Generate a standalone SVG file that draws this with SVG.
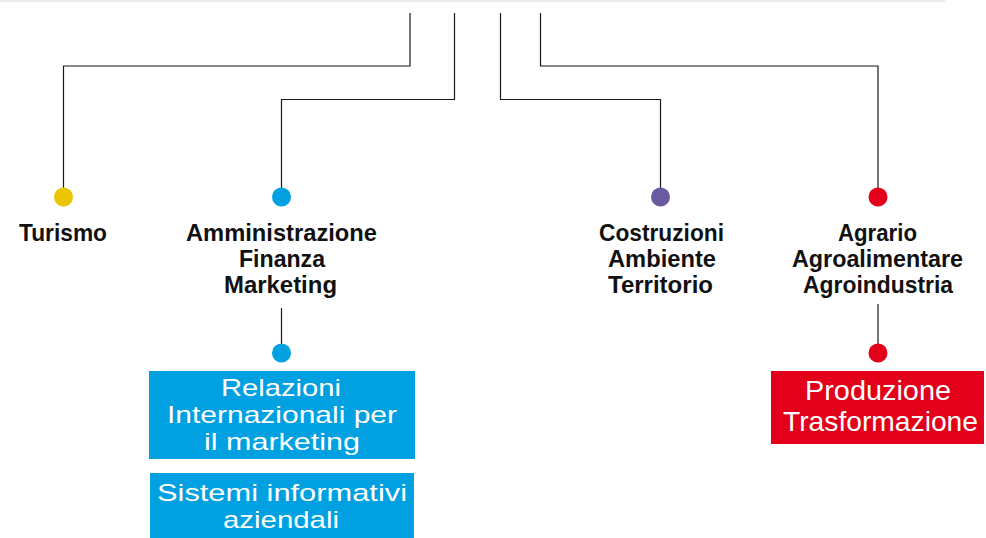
<svg xmlns="http://www.w3.org/2000/svg" width="986" height="538" viewBox="0 0 986 538">
<style>
.ln{fill:none;stroke:#1a1a1a;stroke-width:1.2}
.lbl{font-family:"Liberation Sans",Arial,sans-serif;font-weight:bold;font-size:24px;fill:#111;text-anchor:middle}
.wt{font-family:"Liberation Sans",Arial,sans-serif;font-size:24px;fill:#fff;text-anchor:middle}
.wr{font-family:"Liberation Sans",Arial,sans-serif;font-size:28px;fill:#fff;text-anchor:middle}
</style>
<rect x="0" y="0" width="945" height="2" fill="#ececec"/>
<g id="connectors">
<polyline class="ln" points="410,13 410,66 63.5,66 63.5,190"/>
<polyline class="ln" points="454.5,13 454.5,99.5 281.5,99.5 281.5,190"/>
<polyline class="ln" points="500.5,13 500.5,99.5 660.5,99.5 660.5,190"/>
<polyline class="ln" points="540.5,13 540.5,66 878,66 878,190"/>
<line class="ln" x1="281.5" y1="308" x2="281.5" y2="347"/>
<line class="ln" x1="878" y1="304" x2="878" y2="347"/>
</g>
<g id="turismo">
<circle cx="63.5" cy="197" r="9.5" fill="#E9C600"/>
<text class="lbl" x="63" y="241" textLength="88" lengthAdjust="spacingAndGlyphs">Turismo</text>
</g>
<g id="afm">
<circle cx="281.5" cy="197" r="9.5" fill="#00A0E1"/>
<text class="lbl"><tspan x="281.5" y="241" textLength="191" lengthAdjust="spacingAndGlyphs">Amministrazione</tspan><tspan x="282" y="267" textLength="86" lengthAdjust="spacingAndGlyphs">Finanza</tspan><tspan x="280.5" y="293" textLength="113" lengthAdjust="spacingAndGlyphs">Marketing</tspan></text>
</g>
<g id="cat">
<circle cx="660.5" cy="197" r="9.5" fill="#6A5AA0"/>
<text class="lbl"><tspan x="661.5" y="241" textLength="125" lengthAdjust="spacingAndGlyphs">Costruzioni</tspan><tspan x="662" y="267" textLength="108" lengthAdjust="spacingAndGlyphs">Ambiente</tspan><tspan x="660.5" y="293" textLength="105" lengthAdjust="spacingAndGlyphs">Territorio</tspan></text>
</g>
<g id="agrario">
<circle cx="878" cy="197" r="9.5" fill="#E2001A"/>
<text class="lbl"><tspan x="877.5" y="241" textLength="79" lengthAdjust="spacingAndGlyphs">Agrario</tspan><tspan x="877.5" y="267" textLength="171" lengthAdjust="spacingAndGlyphs">Agroalimentare</tspan><tspan x="878" y="293" textLength="150" lengthAdjust="spacingAndGlyphs">Agroindustria</tspan></text>
</g>
<g id="rim">
<circle cx="281.5" cy="353" r="9.5" fill="#00A0E1"/>
<rect x="149" y="371" width="266" height="88" fill="#00A0E1"/>
<text class="wt"><tspan x="281" y="396" textLength="120" lengthAdjust="spacingAndGlyphs">Relazioni</tspan><tspan x="282" y="423" textLength="230" lengthAdjust="spacingAndGlyphs">Internazionali per</tspan><tspan x="282" y="450" textLength="156" lengthAdjust="spacingAndGlyphs">il marketing</tspan></text>
</g>
<g id="sia">
<rect x="150" y="473" width="264" height="65" fill="#00A0E1"/>
<text class="wt"><tspan x="282" y="501" textLength="250" lengthAdjust="spacingAndGlyphs">Sistemi informativi</tspan><tspan x="281" y="528" textLength="116" lengthAdjust="spacingAndGlyphs">aziendali</tspan></text>
</g>
<g id="pt">
<circle cx="878" cy="353" r="9.5" fill="#E2001A"/>
<rect x="771" y="371" width="213" height="73" fill="#E2001A"/>
<text class="wr"><tspan x="878" y="400" textLength="146" lengthAdjust="spacingAndGlyphs">Produzione</tspan><tspan x="880.5" y="431" textLength="195" lengthAdjust="spacingAndGlyphs">Trasformazione</tspan></text>
</g>
</svg>
